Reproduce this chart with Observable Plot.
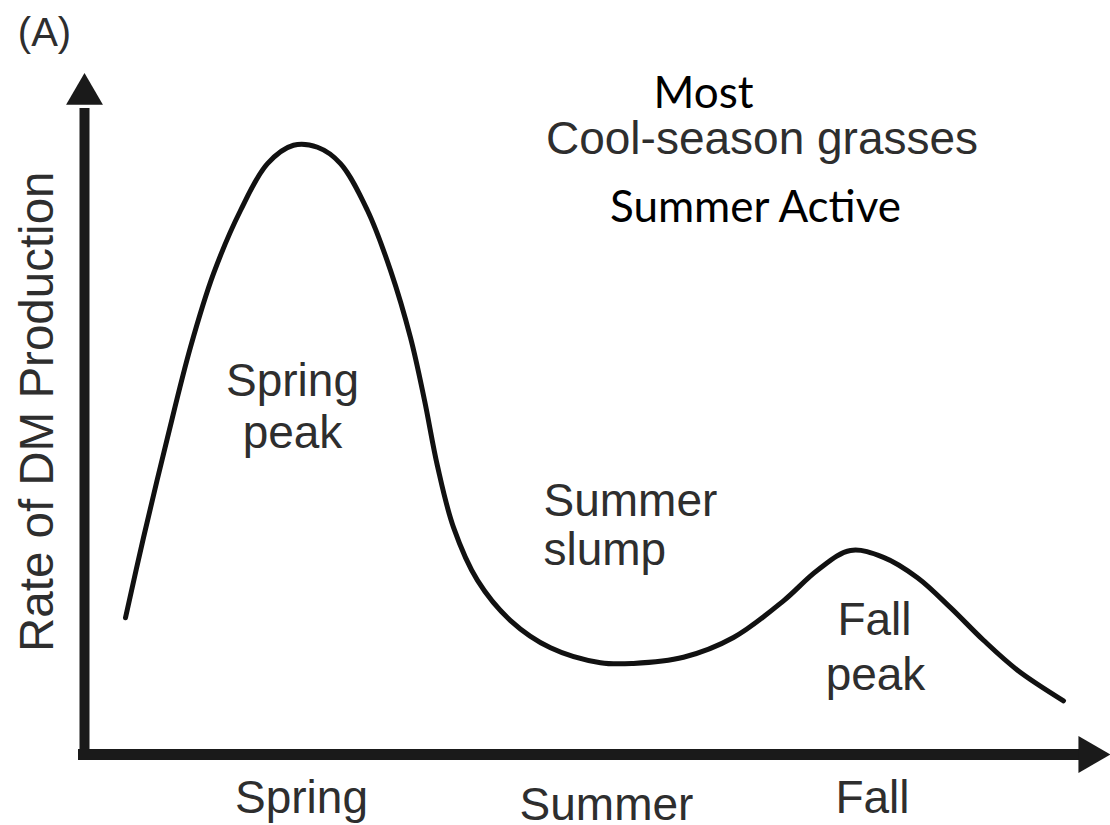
<!DOCTYPE html>
<html>
<head>
<meta charset="utf-8">
<script src="https://cdn.jsdelivr.net/npm/d3@7"></script>
<script src="https://cdn.jsdelivr.net/npm/@observablehq/plot@0.6"></script>
<style>
  html, body { margin: 0; padding: 0; background: #ffffff; }
  #chart svg { display: block; }
</style>
</head>
<body>
<div id="chart"></div>
<script>
// Season position along the year axis (0–100) and relative rate of DM production (0–100)
const seasonPos = [4.1, 5.9, 8.3, 10.6, 12.9, 15.6, 18.3, 20.9, 23.3, 25.6, 28.3, 30.6, 32.6, 34.0, 35.3, 36.9, 39.3, 42.6, 46.6, 51.6, 54.9, 59.9, 64.9, 69.9, 73.3, 76.6, 79.9, 83.3, 86.6, 89.9, 93.3, 97.9];
const dmRate    = [20.1, 31.9, 46.6, 59.9, 70.7, 80.0, 86.9, 89.6, 89.3, 86.9, 80.0, 71.2, 61.3, 52.1, 42.4, 33.4, 25.6, 19.7, 15.7, 13.5, 13.4, 14.3, 17.2, 22.6, 27.1, 30.0, 29.0, 26.0, 21.6, 16.8, 12.4, 7.9];

// Season tick labels on the x axis
const seasonNames = ["Spring", "Summer", "Fall"];
const seasonTickX = [21.7, 52.2, 78.8];
const seasonTickY = [-6.4, -7.4, -6.5];

// Centered in-plot annotations (one entry per text line)
const peakText = ["Spring", "peak", "Fall", "peak"];
const peakX    = [20.8, 20.8, 79.0, 79.1];
const peakY    = [54.96, 47.3, 19.7, 11.7];

// Left-aligned annotation lines
const slumpText = ["Summer", "slump"];
const slumpX    = [45.9, 45.9];
const slumpY    = [37.3, 30.1];

// Header annotations
const headMain = "Cool-season grasses";
const headAdd  = ["Most", "Summer Active"];
const headAddX = [61.9, 67.1];
const headAddY = [97.1, 80.4];

const yLabel = "Rate of DM Production";
const panelTag = "(A)";

const curve = seasonPos.map((x, i) => ({x, y: dmRate[i]}));
const ticks = seasonNames.map((t, i) => ({t, x: seasonTickX[i], y: seasonTickY[i]}));
const peaks = peakText.map((t, i) => ({t, x: peakX[i], y: peakY[i]}));
const slump = slumpText.map((t, i) => ({t, x: slumpX[i], y: slumpY[i]}));
const adds = headAdd.map((t, i) => ({t, x: headAddX[i], y: headAddY[i]}));

const arial = "'Liberation Sans', Arial, Helvetica, sans-serif";
const txtCol = "#2e2e2e";

const chart = Plot.plot({
  width: 1110,
  height: 825,
  marginLeft: 84,
  marginRight: 26,
  marginTop: 74,
  marginBottom: 71,
  x: {domain: [0, 100], axis: null},
  y: {domain: [0, 100], axis: null},
  style: {background: "#ffffff"},
  marks: [
    // axes
    Plot.ruleX([0], {y1: -0.9, y2: 95, stroke: "#1a1a1a", strokeWidth: 10}),
    Plot.ruleY([0], {x1: -0.6, x2: 100, stroke: "#1a1a1a", strokeWidth: 11}),
    Plot.dot([{x: 0, y: 97.1}], {x: "x", y: "y", symbol: "triangle", r: 13.7, fill: "#1a1a1a", stroke: "none"}),
    Plot.dot([{x: 100.46, y: 0}], {x: "x", y: "y", symbol: "triangle", r: 13.7, fill: "#1a1a1a", stroke: "none", rotate: 90}),
    // curve
    Plot.line(curve, {x: "x", y: "y", curve: "catmull-rom", stroke: "#111", strokeWidth: 5}),
    // tick labels
    Plot.text(ticks, {x: "x", y: "y", text: "t", fontSize: 46, fontFamily: arial, fill: txtCol}),
    // annotations
    Plot.text(peaks, {x: "x", y: "y", text: "t", fontSize: 46, fontFamily: arial, fill: txtCol}),
    Plot.text(slump, {x: "x", y: "y", text: "t", textAnchor: "start", fontSize: 46, fontFamily: arial, fill: txtCol}),
    Plot.text([{t: headMain, x: 67.75, y: 90.5}], {x: "x", y: "y", text: "t", fontSize: 46, fontFamily: arial, fill: txtCol}),
    Plot.text(adds, {x: "x", y: "y", text: "t", fontSize: 44, fontFamily: "Lato, 'Open Sans', sans-serif", fill: "#000"}),
    Plot.text([{t: yLabel, x: -4.7, y: 50.4}], {x: "x", y: "y", text: "t", rotate: -90, fontSize: 47.5, fontFamily: arial, fill: txtCol}),
    Plot.text([{t: panelTag, x: -4.0, y: 106.1}], {x: "x", y: "y", text: "t", fontSize: 40, fontFamily: arial, fill: txtCol})
  ]
});
document.getElementById("chart").appendChild(chart);
</script>
</body>
</html>
